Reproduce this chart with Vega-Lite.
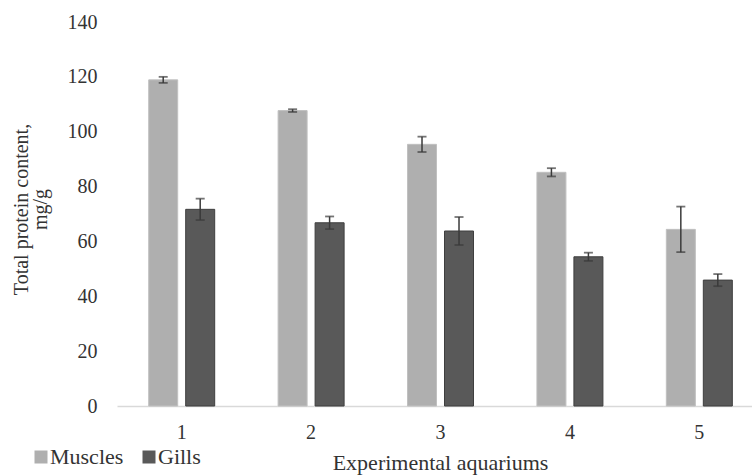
{
  "$schema": "https://vega.github.io/schema/vega-lite/v6.json",
  "width": 635,
  "height": 384,
  "autosize": {"type": "none"},
  "padding": {"left": 117, "top": 22, "right": 0, "bottom": 69},
  "background": "white",
  "config": {
    "view": {"stroke": null},
    "font": "Liberation Serif",
    "axis": {"labelFont": "Liberation Serif", "titleFont": "Liberation Serif", "labelFontSize": 20, "titleFontSize": 22, "labelColor": "#333333", "titleColor": "#333333", "titleFontWeight": "normal"},
    "legend": {"labelFont": "Liberation Serif", "labelFontSize": 22, "labelColor": "#333333"}
  },
  "data": {
    "values": [
      {"aquarium": "1", "tissue": "Muscles", "value": 118.9, "err": 1.1},
      {"aquarium": "1", "tissue": "Gills", "value": 71.7, "err": 3.9},
      {"aquarium": "2", "tissue": "Muscles", "value": 107.7, "err": 0.5},
      {"aquarium": "2", "tissue": "Gills", "value": 66.8, "err": 2.3},
      {"aquarium": "3", "tissue": "Muscles", "value": 95.4, "err": 2.8},
      {"aquarium": "3", "tissue": "Gills", "value": 63.8, "err": 5.1},
      {"aquarium": "4", "tissue": "Muscles", "value": 85.2, "err": 1.5},
      {"aquarium": "4", "tissue": "Gills", "value": 54.4, "err": 1.5},
      {"aquarium": "5", "tissue": "Muscles", "value": 64.4, "err": 8.3},
      {"aquarium": "5", "tissue": "Gills", "value": 45.9, "err": 2.2}
    ]
  },
  "encoding": {
    "x": {
      "field": "aquarium", "type": "nominal",
      "scale": {"paddingInner": 0.49, "paddingOuter": 0.1985, "align": 0.617},
      "axis": {
        "title": "Experimental aquariums", "labelAngle": 0, "ticks": false, "labelPadding": 16,
        "domainColor": "#d9d9d9", "domainWidth": 1.3, "grid": false,
        "titleX": 323, "titleY": 56, "titleBaseline": "middle", "titleAlign": "center"
      }
    },
    "xOffset": {"field": "tissue", "type": "nominal", "sort": ["Muscles", "Gills"], "scale": {"paddingInner": 0.216, "paddingOuter": 0}},
    "y": {
      "field": "value", "type": "quantitative",
      "scale": {"domain": [0, 140], "nice": false},
      "title": ["Total protein content,", "mg/g"],
      "axis": {
        "values": [0, 20, 40, 60, 80, 100, 120, 140],
        "domain": false, "ticks": false, "grid": false, "labelPadding": 20,
        "titleFontSize": 20,
        "titleAngle": -90, "titleX": -106, "titleY": 187, "titleBaseline": "top", "titleAlign": "center", "titleLineHeight": 19
      }
    }
  },
  "layer": [
    {
      "mark": {"type": "bar", "strokeWidth": 1},
      "encoding": {
        "color": {
          "field": "tissue", "type": "nominal",
          "scale": {"domain": ["Muscles", "Gills"], "range": ["#afafaf", "#595959"]},
          "legend": {"title": null, "orient": "none", "direction": "horizontal", "legendX": -87, "legendY": 424, "symbolType": "square", "symbolSize": 169, "symbolStrokeWidth": 0, "labelOffset": -2, "columnPadding": 14, "symbolOpacity": 1}
        },
        "stroke": {
          "field": "tissue", "type": "nominal",
          "scale": {"domain": ["Muscles", "Gills"], "range": ["#c0c0c0", "#3f3f3f"]},
          "legend": null
        }
      }
    },
    {
      "mark": {"type": "errorbar", "color": "#3a3a3a", "thickness": 1.5, "ticks": {"size": 9, "thickness": 1.8, "color": "#3a3a3a"}},
      "encoding": {
        "yError": {"field": "err"}
      }
    }
  ]
}
